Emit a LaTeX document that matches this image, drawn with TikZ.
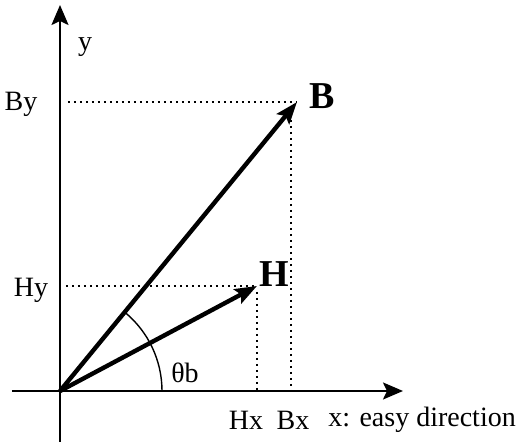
\documentclass[tikz,border=0pt]{standalone}
\usepackage{fontspec}
\setmainfont{Liberation Serif}
\usetikzlibrary{arrows.meta,positioning,calc}

\begin{document}
\begin{tikzpicture}[
    x=0.5pt, y=-0.5pt,
    every node/.style={font=\fontsize{14}{16}\selectfont, inner sep=0pt},
    axisline/.style={line width=1pt, -{Stealth[length=10pt, width=8.5pt, inset=2pt]}},
    vecline/.style={line width=2.2pt, -{Stealth[length=11pt, width=8pt, inset=2pt]}},
    guide/.style={line width=1.1pt, dash pattern=on 1.1pt off 1.9pt},
    veclabel/.style={font=\fontsize{19}{21}\selectfont\bfseries},
]
\useasboundingbox (0,0) rectangle (527,443);

% Points
\coordinate (O)    at (60,391);
\coordinate (xlo)  at (12,391);
\coordinate (xhi)  at (403,391);
\coordinate (ylo)  at (60,442);
\coordinate (yhi)  at (60,5);
\coordinate (Btip) at (297,102);
\coordinate (Htip) at (257,286);
\coordinate (Byl)  at (68,102);
\coordinate (Hyl)  at (66,286);
\coordinate (Bxt)  at (291,114);
\coordinate (Bxb)  at (291,391);
\coordinate (Hxt)  at (257,292);
\coordinate (Hxb)  at (257,391);

% Axes
\draw[axisline] (xlo) -- (xhi);
\draw[axisline] (ylo) -- (yhi);

% Projections
\draw[guide] (Byl) -- (Btip);
\draw[guide] (Bxt) -- (Bxb);
\draw[guide] (Hyl) -- (Htip);
\draw[guide] (Hxt) -- (Hxb);

% Vectors
\draw[vecline] (O) -- (Btip);
\draw[vecline] (O) -- (Htip);

% Angle
\draw[line width=0.7pt] ($(O)+(102,0)$) arc[start angle=0, end angle=-50.6, radius=102];

% Labels
\node (ylab)  at (85,47)   {y};
\node (Bylab) at (21,104)  {By};
\node (Hylab) at (31,290)  {Hy};
\node[veclabel] (Blab) at (322,96)  {B};
\node[veclabel] (Hlab) at (274,274) {H};
\node (thlab) at (185,373) {θb};
\node (Hxlab) at (246,420) {Hx};
\node (Bxlab) at (293,420) {Bx};
\node[anchor=west] (xlab) at (328,420) {x: easy direction};

\end{tikzpicture}
\end{document}
